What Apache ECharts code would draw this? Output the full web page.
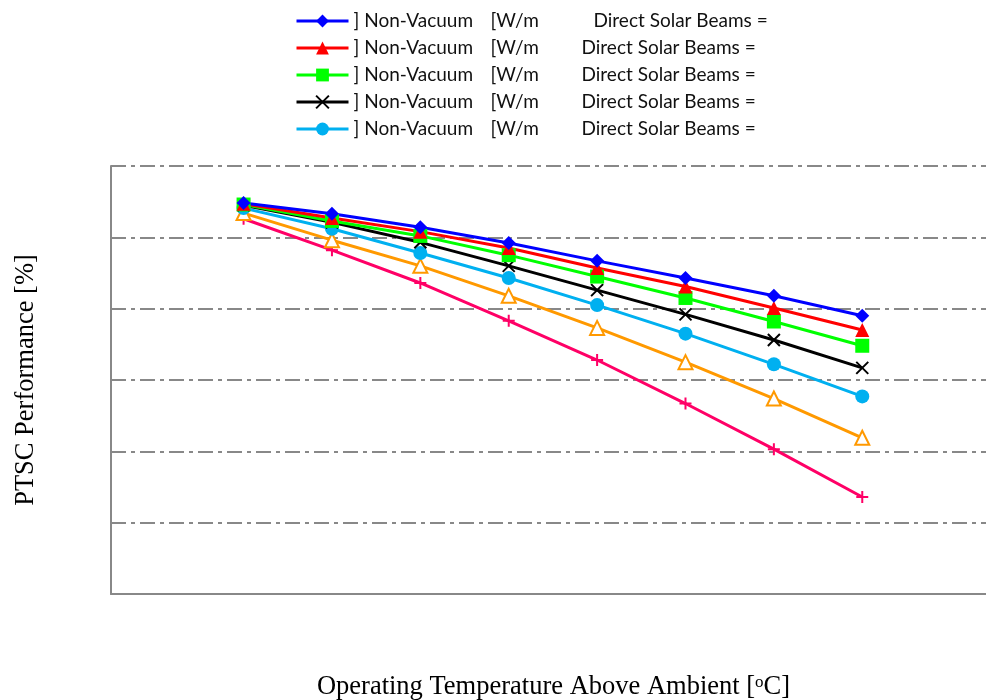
<!DOCTYPE html>
<html>
<head>
<meta charset="utf-8">
<script src="https://cdn.jsdelivr.net/npm/echarts@6/dist/echarts.min.js"></script>
<style>
  html, body { margin: 0; padding: 0; background: #fff; width: 986px; height: 700px; overflow: hidden; }
  #chart { width: 986px; height: 700px; display: block; }
</style>
</head>
<body>
<div id="chart"></div>
<script>
// Operating temperature above ambient (°C) at which each curve is sampled
const temps = [15, 25, 35, 45, 55, 65, 75, 85];

// PTSC performance (%) for each configuration
const seriesA = [54.8, 53.3, 51.4, 49.2, 46.7, 44.3, 41.8, 39.0];
const seriesB = [54.7, 52.7, 50.8, 48.5, 45.7, 43.1, 40.1, 37.0];
const seriesC = [54.6, 52.3, 50.2, 47.5, 44.5, 41.5, 38.2, 34.8];
const seriesD = [54.5, 52.1, 49.3, 46.0, 42.6, 39.2, 35.6, 31.7];
const seriesE = [54.1, 51.2, 47.8, 44.3, 40.5, 36.5, 32.2, 27.7];
const seriesF = [53.4, 49.6, 46.0, 41.8, 37.3, 32.5, 27.4, 21.9];
const seriesG = [52.6, 48.2, 43.6, 38.3, 32.8, 26.7, 20.3, 13.6];

// Legend rows (only the first five curves are listed)
const legendIds = ['s1', 's2', 's3', 's4', 's5'];

const pair = arr => arr.map((v, i) => [temps[i], v]);

const crossPath = 'path://M0,0L10,10M10,0L0,10';
const plusPath = 'path://M5,0L5,10M0,5L10,5';

function lineSeries(name, data, color, symbol, size, extra) {
  return Object.assign({
    name: name,
    type: 'line',
    data: pair(data),
    symbol: symbol,
    symbolSize: size,
    lineStyle: { color: color, width: 3 },
    itemStyle: { color: color },
    z: 3
  }, extra || {});
}

const legendFont = 'Lato, "Open Sans", sans-serif';
const serifFont = '"Liberation Serif", "Times New Roman", serif';

const chart = echarts.init(document.getElementById('chart'));
chart.setOption({
  animation: false,
  backgroundColor: '#fff',
  grid: {
    left: 111, top: 166, right: 0, bottom: 106,
    containLabel: false,
    outerBoundsMode: 'none'
  },
  legend: {
    data: legendIds,
    orient: 'vertical',
    left: 290,
    top: 6,
    itemWidth: 52,
    itemHeight: 16,
    itemGap: 7,
    lineStyle: { width: 3 },
    textStyle: {
      fontFamily: legendFont,
      fontSize: 19,
      color: '#111',
      lineHeight: 20,
      rich: {
        a: { width: 137, fontSize: 19, fontFamily: legendFont, color: '#111' },
        b1: { width: 103, fontSize: 19, fontFamily: legendFont, color: '#111' },
        b2: { width: 91, fontSize: 19, fontFamily: legendFont, color: '#111' },
        c: { fontSize: 19, fontFamily: legendFont, color: '#111' }
      }
    },
    formatter: function (name) {
      const mid = name === 's1' ? 'b1' : 'b2';
      return '{a|] Non-Vacuum}{' + mid + '|[W/m}{c|Direct Solar Beams =}';
    }
  },
  xAxis: {
    type: 'value',
    min: 0,
    max: 99,
    name: 'Operating Temperature Above Ambient [{sup|o}C]',
    nameLocation: 'middle',
    nameGap: 80,
    nameTextStyle: {
      fontFamily: serifFont,
      fontSize: 26.5,
      color: '#000',
      padding: [0, 0, 0, 10],
      rich: {
        sup: { fontSize: 17, verticalAlign: 'top', padding: [0, 0, 10, 0],
               fontFamily: serifFont, color: '#000' }
      }
    },
    axisLine: { show: true, lineStyle: { color: '#888', width: 2 } },
    axisTick: { show: false },
    axisLabel: { show: false },
    splitLine: { show: false }
  },
  yAxis: {
    type: 'value',
    min: 0,
    max: 60,
    interval: 10,
    name: 'PTSC Performance [%]',
    nameLocation: 'middle',
    nameGap: 71,
    nameTextStyle: {
      fontFamily: serifFont,
      fontSize: 26.5,
      color: '#000'
    },
    axisLine: { show: true, lineStyle: { color: '#888', width: 2 } },
    axisTick: { show: false },
    axisLabel: { show: false },
    splitLine: {
      show: true,
      lineStyle: { color: '#888', width: 2, type: [15, 5, 4, 5] }
    }
  },
  series: [
    lineSeries('s7', seriesG, '#FF0066', plusPath, 12,
      { itemStyle: { color: '#FF0066', borderColor: '#FF0066', borderWidth: 2 } }),
    lineSeries('s6', seriesF, '#FF9900', 'triangle', 14,
      { itemStyle: { color: '#fff', borderColor: '#FF9900', borderWidth: 2 } }),
    lineSeries('s5', seriesE, '#00B0F0', 'circle', 14),
    lineSeries('s4', seriesD, '#000000', crossPath, 12,
      { itemStyle: { color: '#000', borderColor: '#000', borderWidth: 2 } }),
    lineSeries('s3', seriesC, '#00FF00', 'rect', 14),
    lineSeries('s2', seriesB, '#FF0000', 'triangle', 14),
    lineSeries('s1', seriesA, '#0000FF', 'diamond', 14)
  ]
});
</script>
</body>
</html>
